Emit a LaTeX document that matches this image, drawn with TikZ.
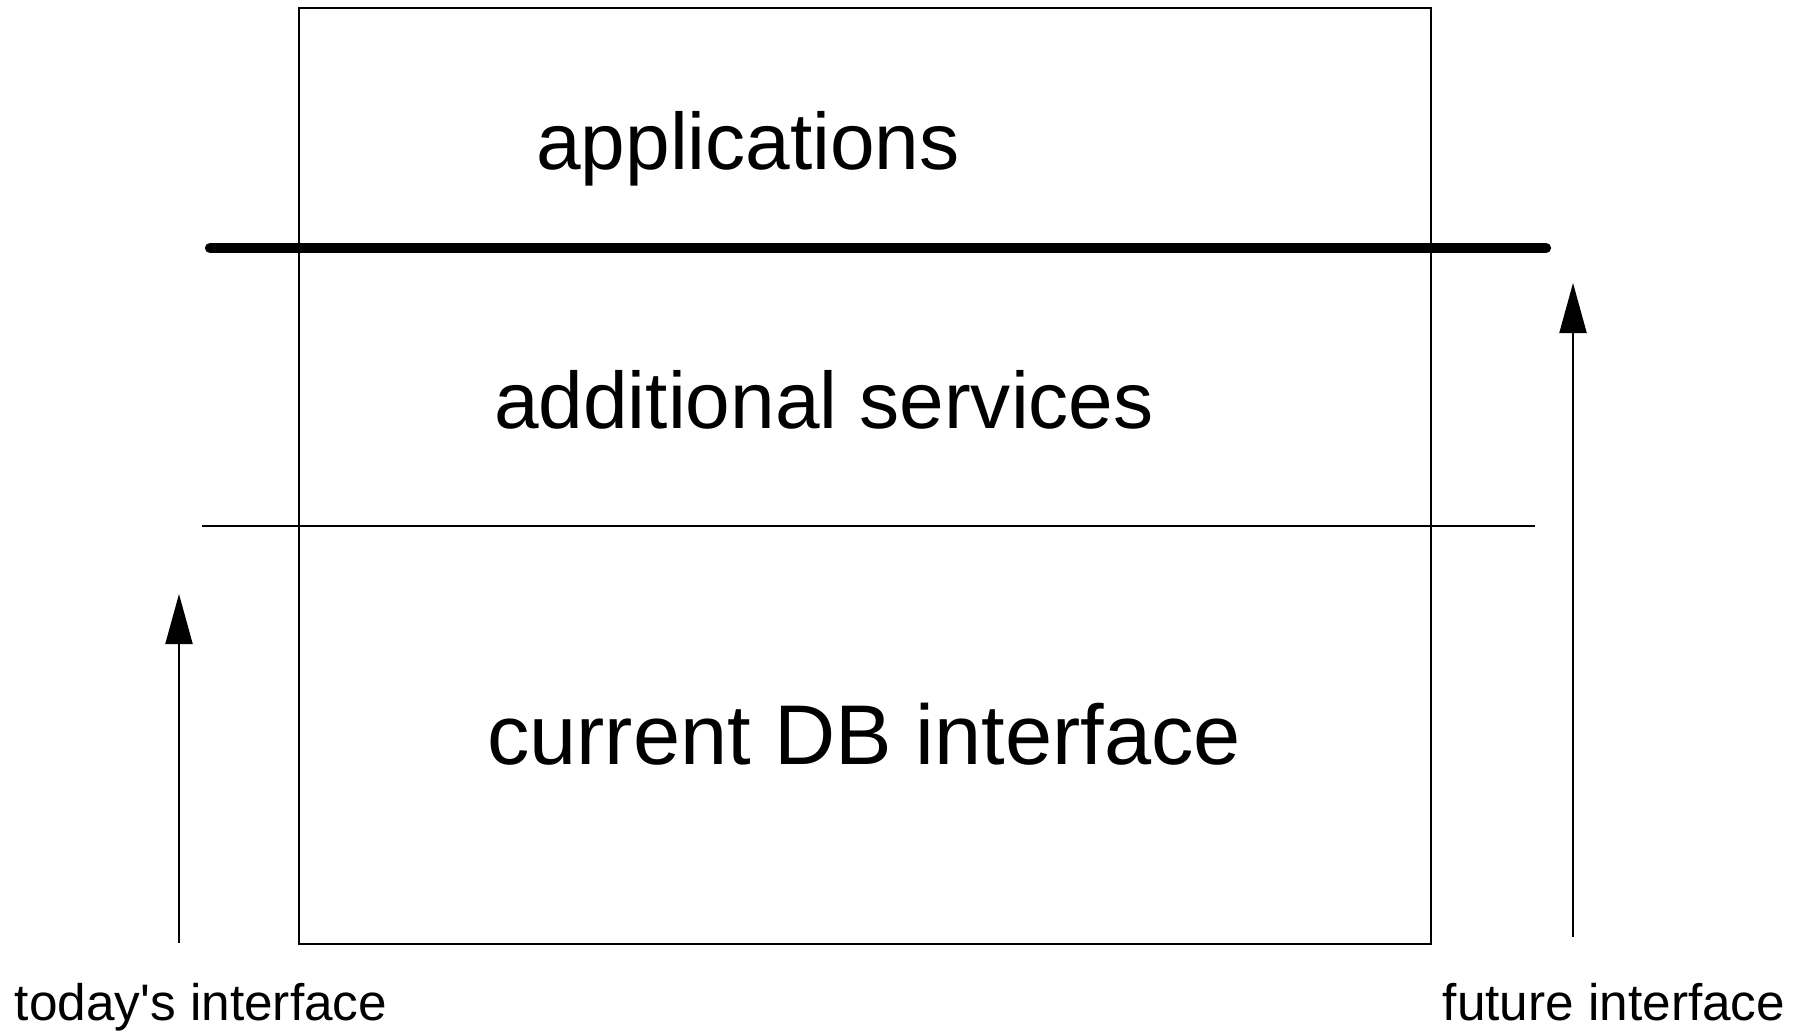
\documentclass[tikz,border=0pt]{standalone}
\usepackage{fontspec}
\setmainfont{Liberation Sans}
\usetikzlibrary{arrows.meta}

\begin{document}
\begin{tikzpicture}[x=0.01cm,y=0.01cm,
		thin line/.style={line width=0.6pt},
		thick line/.style={line width=2.9pt,line cap=round},
		up arrow/.style={line width=0.6pt,-{Triangle[length=0.5cm,width=0.27cm]}},
		layer/.style={anchor=base,font=\fontsize{22.8pt}{26pt}\selectfont,inner sep=0pt},
		side/.style={anchor=base,font=\fontsize{14.6pt}{17pt}\selectfont,inner sep=0pt}]
		\useasboundingbox (0,0) rectangle (1810,1030);
		
		\draw [thin line] (299,86) rectangle (1431,1022);
		\draw [thick line] (210,782) -- (1546,782);
		\draw [thin line] (202,504) -- (1535,504);
		
		\node [layer] (apps) at (748,860) {applications};
		\node [layer] (services) at (824,601) {additional services};
		\node [layer,font=\fontsize{24.1pt}{28pt}\selectfont] (dbif) at (864,266) {current DB interface};
		
		\coordinate (today bottom) at (179,87);
		\coordinate (today top) at (179,436);
		\coordinate (future bottom) at (1573,93);
		\coordinate (future top) at (1573,747);
		\draw [up arrow] (today bottom) -- (today top);
		\draw [up arrow] (future bottom) -- (future top);
		
		\node [side] (today) at (201,10) {today\textquotesingle s interface};
		\node [side] (future) at (1614,10) {future interface};
		
	\end{tikzpicture}
\end{document}
